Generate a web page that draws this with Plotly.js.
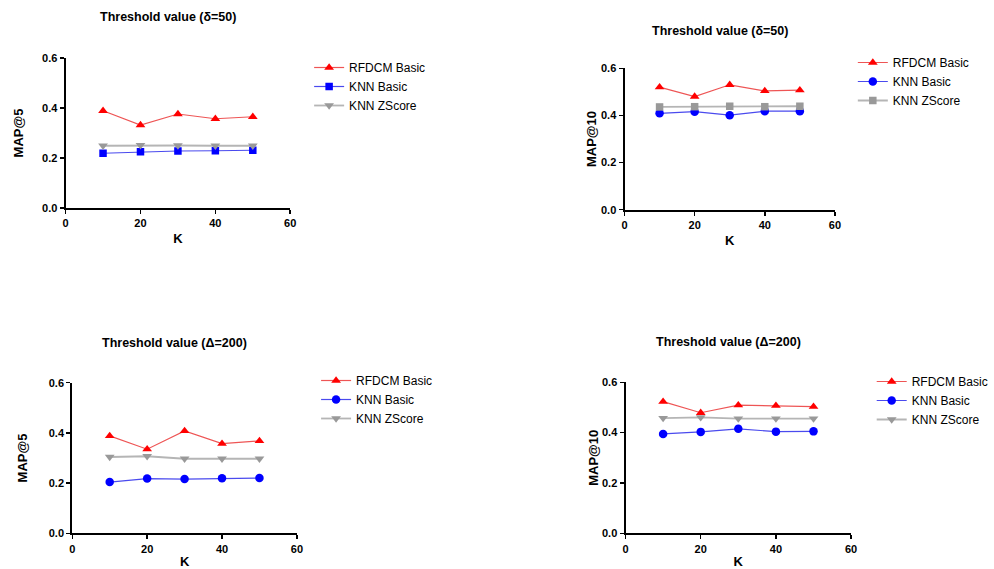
<!DOCTYPE html>
<html><head><meta charset="utf-8">
<script src="https://cdn.plot.ly/plotly-3.0.1.min.js"></script>
<style>html,body{margin:0;padding:0;background:#fff}#chart{width:994px;height:569px}</style>
</head><body><div id="chart"></div>
<script>
const K = [10, 20, 30, 40, 50];
const seriesNames = ["RFDCM Basic", "KNN Basic", "KNN ZScore"];
const panelTitles = ["Threshold value (δ=50)", "Threshold value (δ=50)", "Threshold value (Δ=200)", "Threshold value (Δ=200)"];
const yTitles = ["MAP@5", "MAP@10", "MAP@5", "MAP@10"];
const xTitle = "K";

const p1Rfdcm = [0.389, 0.332, 0.376, 0.357, 0.365];
const p1Knn   = [0.219, 0.225, 0.228, 0.229, 0.231];
const p1Z     = [0.249, 0.251, 0.250, 0.249, 0.249];

const p2Rfdcm = [0.520, 0.480, 0.530, 0.504, 0.507];
const p2Knn   = [0.409, 0.416, 0.401, 0.418, 0.418];
const p2Z     = [0.436, 0.437, 0.439, 0.437, 0.439];

const p3Rfdcm = [0.388, 0.335, 0.408, 0.357, 0.368];
const p3Knn   = [0.204, 0.218, 0.216, 0.219, 0.220];
const p3Z     = [0.304, 0.307, 0.297, 0.297, 0.297];

const p4Rfdcm = [0.523, 0.479, 0.509, 0.507, 0.503];
const p4Knn   = [0.395, 0.403, 0.415, 0.404, 0.405];
const p4Z     = [0.458, 0.461, 0.456, 0.456, 0.456];

const W = 994, H = 569;
const px = v => v / W;
const py = v => 1 - v / H;

// panel pixel boxes: [left, right, bottom, top]
const boxes = [
  [66, 292, 208, 58],
  [628.3, 840, 209.7, 68.3],
  [72.7, 298.7, 533.3, 382.7],
  [629.3, 856.3, 533.3, 382.3]
];
const titlePos = [[169, 17], [724, 30.7], [176, 342.7], [733, 342.3]];
const legendPos = [[311, 53], [858, 48], [318, 366], [877, 367]];
const yStandoff = [16, 1, 18, 0];
const xStandoff = [6, 6, 10, 10];

const panelData = [
  [p1Rfdcm, p1Knn, p1Z],
  [p2Rfdcm, p2Knn, p2Z],
  [p3Rfdcm, p3Knn, p3Z],
  [p4Rfdcm, p4Knn, p4Z]
];
const symbols = [
  ["triangle-up", "square", "triangle-down"],
  ["triangle-up", "circle", "square"],
  ["triangle-up", "circle", "triangle-down"],
  ["triangle-up", "circle", "triangle-down"]
];
const markerColors = ["#ff0000", "#0000ff", "#999999"];
const lineColors = ["#ee5555", "#4a4aee", "#b5b5b5"];
const lineWidths = [1.2, 1.2, 1.8];

const traces = [];
const layout = {
  width: W, height: H,
  margin: {l: 0, r: 0, t: 0, b: 0},
  paper_bgcolor: "#fff", plot_bgcolor: "#fff",
  font: {family: "Liberation Sans, Arial, sans-serif", color: "#000"},
  annotations: [],
  showlegend: true
};

for (let p = 0; p < 4; p++) {
  const sfx = p === 0 ? "" : String(p + 1);
  const legKey = p === 0 ? "legend" : "legend" + (p + 1);
  for (let s = 0; s < 3; s++) {
    traces.push({
      type: "scatter", mode: "lines+markers",
      x: K, y: panelData[p][s], name: seriesNames[s],
      xaxis: "x" + sfx, yaxis: "y" + sfx,
      legend: legKey,
      cliponaxis: false,
      line: {color: lineColors[s], width: lineWidths[s]},
      marker: {symbol: symbols[p][s], color: markerColors[s], size: (symbols[p][s] === "square" ? 7.5 : 8.5)}
    });
  }
  const b = boxes[p];
  layout["xaxis" + sfx] = {
    domain: [px(b[0]), px(b[1])], range: [0, 60], dtick: 20, tick0: 0,
    anchor: "y" + sfx,
    showline: true, linewidth: 2, linecolor: "#000", mirror: false,
    ticks: "outside", ticklen: 4, tickwidth: 1.5, tickcolor: "#000",
    showgrid: false, zeroline: false,
    tickfont: {size: 11, family: "Liberation Sans, Arial, sans-serif", weight: "bold"},
    title: {text: "<b>" + xTitle + "</b>", font: {size: 13}, standoff: xStandoff[p]}
  };
  layout["yaxis" + sfx] = {
    domain: [py(b[2]), py(b[3])], range: [0, 0.6], dtick: 0.2, tick0: 0,
    tickformat: ".1f",
    anchor: "x" + sfx,
    showline: true, linewidth: 2, linecolor: "#000",
    ticks: "outside", ticklen: 4, tickwidth: 1.5, tickcolor: "#000",
    showgrid: false, zeroline: false,
    tickfont: {size: 11, family: "Liberation Sans, Arial, sans-serif", weight: "bold"},
    title: {text: "<b>" + yTitles[p] + "</b>", font: {size: 13}, standoff: yStandoff[p]}
  };
  layout[legKey] = {
    x: px(legendPos[p][0]), y: py(legendPos[p][1]),
    xanchor: "left", yanchor: "top",
    bgcolor: "rgba(0,0,0,0)",
    font: {size: 12, color: "#000"},
    tracegroupgap: 0, itemwidth: 30
  };
  layout.annotations.push({
    xref: "paper", yref: "paper",
    x: px(titlePos[p][0]), y: py(titlePos[p][1]),
    xanchor: "center", yanchor: "middle",
    showarrow: false,
    text: "<b>" + panelTitles[p] + "</b>",
    font: {size: 12.5, color: "#000"}
  });
}

Plotly.newPlot("chart", traces, layout, {displayModeBar: false, staticPlot: true});
</script>
</body></html>
